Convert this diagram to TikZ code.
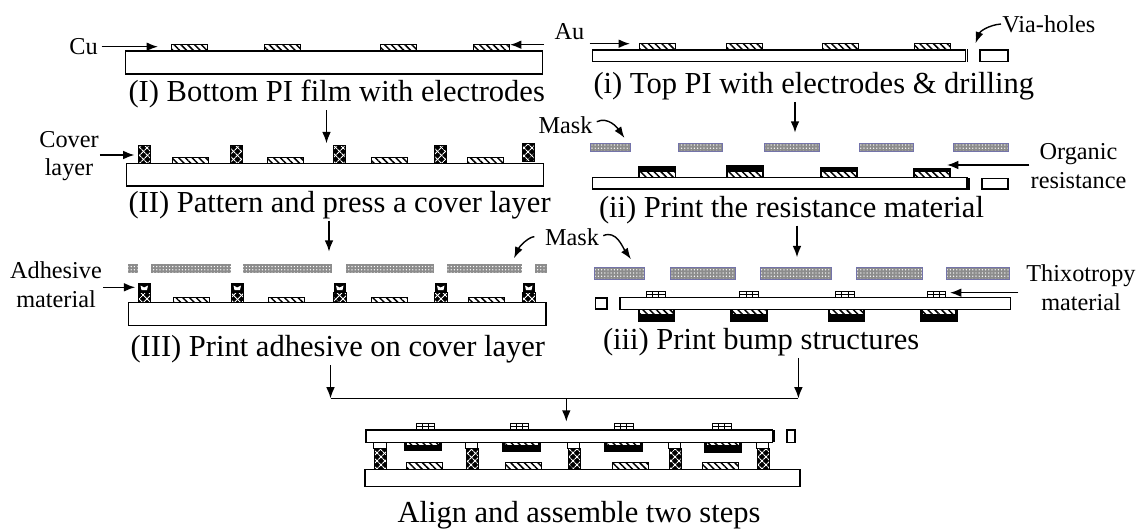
\documentclass[tikz,border=0pt]{standalone}
\usepackage{fontspec}
\setmainfont{Liberation Serif}
\usetikzlibrary{arrows.meta, patterns.meta}
\definecolor{maskGray}{RGB}{140, 140, 140}
\definecolor{maskBlue}{RGB}{115, 115, 170}
\tikzset{
  film/.style={draw=black, fill=white, line width=0.95pt},
  electrode/.style={draw=black, line width=0.55pt, preaction={fill=white}, pattern={Lines[angle=-45,distance=3.6pt,line width=1.1pt]}},
  post/.style={draw=black, line width=0.5pt, preaction={fill=black}, preaction={pattern={Lines[angle=45,distance=4pt,line width=0.8pt]}, pattern color=white}, pattern={Lines[angle=-45,distance=4pt,line width=0.8pt]}, pattern color=white},
  mask/.style={preaction={fill=maskGray}, pattern={Dots[distance=2.4pt,radius=0.55pt]}, pattern color=white},
  bluemask/.style={mask, draw=maskBlue, line width=0.5pt},
  thixo/.style={draw=black, fill=white, line width=0.6pt},
  flow/.style={-{Latex[length=8.5pt,width=6.5pt]}, line width=1.15pt},
  swoop/.style={-{Latex[length=8.5pt,width=6pt]}, line width=1.05pt},
  title/.style={font=\fontsize{22.9}{26}\selectfont, inner sep=0pt, outer sep=1.5pt, anchor=base west},
  tag/.style={font=\fontsize{18.2}{21.3}\selectfont, inner sep=0pt, outer sep=1pt, align=center}
}
\newcommand{\thixoPad}[2]{
  \draw[thixo] (#1,#2) rectangle +(18.7,6.5);
  \draw[line width=0.5pt] (#1,#2+3.2) -- +(18.7,0) (#1+6.2,#2) -- +(0,6.5) (#1+12.4,#2) -- +(0,6.5);
}
\begin{document}
\begin{tikzpicture}[x=0.75pt, y=-0.75pt]
  \useasboundingbox (0,0) rectangle (1143,529);

  % step I
  \foreach \x in {171,264,380,473} \draw[electrode] (\x,44.7) rectangle +(36,6.3);
  \draw[film] (125.5,51) rectangle (542.5,74);
  \node[title] (tI) at (126.5,101.7) {(I) Bottom PI film with electrodes};
  \node[tag, anchor=east] (cu) at (99,46.7) {Cu};
  \node[tag] (au) at (569.5,32) {Au};
  \coordinate (cuTip) at (158,46.7);
  \coordinate (auTipL) at (510,44.7);
  \coordinate (auTipR) at (630,43.7);
  \draw[flow, shorten <=2pt] (cu.east) -- (cuTip);
  \draw[flow, shorten <=7pt] (au.west |- auTipL) -- (auTipL);
  \draw[flow, shorten <=3pt] (au.east |- auTipR) -- (auTipR);

  % step II
  \foreach \x in {172,267,371,467.6} \draw[electrode] (\x,157.3) rectangle +(36,6);
  \foreach \x in {138,230.5,333,434} \draw[post] (\x,145.7) rectangle +(12.3,17.6);
  \draw[post] (522,143.7) rectangle +(12.3,18);
  \draw[film] (126.5,163.3) rectangle (543.6,186);
  \node[title] (tII) at (126.5,212) {(II) Pattern and press a cover layer};
  \node[tag, anchor=base] (coverL) at (69,175.5) {Cover\\layer};
  \coordinate (coverTip) at (134.5,155);
  \draw[flow] (coverL.east |- coverTip) -- (coverTip);
  \coordinate (inII) at (326.5,143.3);
  \draw[flow] (tI.south -| inII) -- (inII);

  % step III
  \foreach \a/\b in {128/137.5,151/231,243/332,345.5/434,447/522,535/546.6}
    \fill[mask] (\a,264) rectangle (\b,273.3);
  \foreach \x in {173.5,268,371.6,468.4} \draw[electrode] (\x,297.3) rectangle +(36,5.4);
  \foreach \x in {138,231,333.5,434.5,522.5} {
    \draw[post] (\x,292) rectangle +(12.5,10.7);
    \fill[black] (\x,283.3) rectangle +(12.5,8.7);
    \fill[white] (\x+2.5,285.5) -- (\x+6.2,287.5) -- (\x+10,285.5) -- (\x+9,290) -- (\x+3.5,290) -- cycle;
  }
  \draw[film] (128.4,302.7) rectangle (546,325.7);
  \node[title] (tIII) at (128.5,356.7) {(III) Print adhesive on cover layer};
  \node[tag, anchor=base] (glue) at (56,307.3) {Adhesive\\material};
  \coordinate (glueTip) at (135.3,287.3);
  \draw[flow] (glue.east |- glueTip) -- (glueTip);
  \coordinate (inIII) at (329,251.7);
  \draw[flow] (tII.south -| inIII) -- (inIII);

  % step i
  \foreach \x in {639,726,822,914} \draw[electrode] (\x,43.7) rectangle +(36,6.3);
  \draw[film] (592.5,50) rectangle (965.6,61.7);
  \draw[line width=1.1pt] (967.5,49.3) -- (967.5,61.7);
  \draw[film] (980,50) rectangle (1008,61.7);
  \node[title] (ti) at (591.5,93.3) {(i) Top PI with electrodes \& drilling};
  \node[tag, anchor=west] (via) at (1001,24) {Via-holes};
  \coordinate (viaTip) at (975.5,43.3);
  \draw[swoop] (via.west) to[out=185,in=70] (viaTip);

  % step ii
  \foreach \a/\b in {590.7/630.7,678.4/722.7,764.5/819,859/913,953.6/1008}
    \draw[bluemask] (\a,143.3) rectangle (\b,151);
  \foreach \x/\t in {638.4/165.7,726/165,820/166.7,913/168.3} {
    \fill[black] (\x,\t) rectangle (\x+37.8,177.7);
    \draw[electrode] (\x+1,171.7) rectangle (\x+36.8,177.7);
  }
  \draw[film] (592.5,177.7) rectangle (967,189);
  \draw[line width=1.1pt] (969,178.3) -- (969,190);
  \draw[line width=1.1pt] (982,178.3) -- (982,190);
  \draw[film] (982,178.3) rectangle (1008,189);
  \node[title] (tii) at (597,217) {(ii) Print the resistance material};
  \node[tag, anchor=base] (maskA) at (565.5,133) {Mask};
  \coordinate (maskTipA) at (624.5,138);
  \draw[swoop] (maskA.east) ++(3,-3) to[out=25,in=125] (maskTipA);
  \node[tag, anchor=base] (organic) at (1078.5,188.3) {Organic\\resistance};
  \coordinate (organicTip) at (947,165);
  \draw[flow] (organic.west |- organicTip) -- (organicTip);
  \coordinate (inii) at (795,132.7);
  \draw[flow] (ti.south -| inii) -- (inii);

  % step iii
  \foreach \a/\b in {594.7/644.5,670/735.5,760/831,856/922,946.4/1009.3}
    \draw[bluemask] (\a,267.3) rectangle (\b,279.3);
  \foreach \x in {646.4,739.8,835.5,927} \thixoPad{\x}{291.5}
  \foreach \x in {637.6,730.4,827.5,920} {
    \fill[black] (\x,309.3) rectangle +(37.8,12.4);
    \draw[electrode, draw=none] (\x+2.5,309.8) rectangle +(32.8,4.2);
  }
  \draw[film] (620,297.7) rectangle (1010.7,309.3);
  \draw[film] (595.5,298) rectangle (607,309);
  \node[title] (tiii) at (601,349.3) {(iii) Print bump structures};
  \node[tag, anchor=base] (maskB) at (572,245) {Mask};
  \coordinate (maskTipB) at (514,258.3);
  \coordinate (maskTipC) at (631,259.3);
  \draw[swoop, shorten <=7pt] (maskB.west) to[out=180,in=65] (maskTipB);
  \draw[swoop] (maskB.east) ++(3,-1) to[out=25,in=125] (maskTipC);
  \node[tag, anchor=base] (thix) at (1081,310) {Thixotropy\\material};
  \coordinate (thixTip) at (950,292.7);
  \draw[flow, shorten <=5pt] (thix.west |- thixTip) -- (thixTip);
  \coordinate (iniii) at (797,257.3);
  \draw[flow] (tii.south -| iniii) -- (iniii);

  % join and assembly
  \coordinate (joinL) at (330.5,398.5);
  \coordinate (joinR) at (798.4,398.5);
  \coordinate (joinM) at (566.3,398.5);
  \coordinate (inFinal) at (566.3,421.7);
  \draw[flow] (tIII.south -| joinL) -- (joinL);
  \draw[flow] (tiii.south -| joinR) -- (joinR);
  \draw[line width=1pt] (joinL) -- (joinR);
  \draw[flow] (joinM) -- (inFinal);

  \foreach \x in {416,510,614.3,712.3} \thixoPad{\x}{423.5}
  \foreach \x/\b in {404/450.7,502.3/451.7,604.3/451.7,704/453.3} {
    \fill[black] (\x,442.3) rectangle (\x+38.4,\b);
    \draw[electrode, draw=none] (\x+3,442.6) rectangle +(32.4,2.6);
  }
  \foreach \x in {374.7,466,568,669.3,757.3} {
    \draw[post] (\x,448.3) rectangle (\x+12,469.3);
    \draw[thixo] (\x-1,442.3) rectangle +(12.3,6);
  }
  \foreach \x in {406.7,505.7,612.3,702.7} \draw[electrode] (\x,462.3) rectangle +(36,7);
  \draw[film] (366,430) rectangle (772.7,442.3);
  \draw[line width=1.1pt] (774,430) -- (774,442.3);
  \draw[film] (787,430) rectangle (795,442.3);
  \draw[film] (365,469.3) rectangle (800,486.7);
  \node[title] (final) at (395.5,522) {Align and assemble two steps};
\end{tikzpicture}
\end{document}
